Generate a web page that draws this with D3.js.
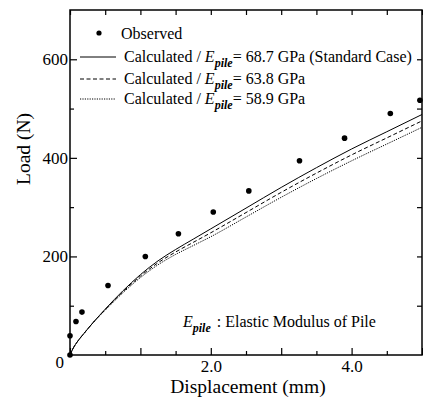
<!DOCTYPE html>
<html>
<head>
<meta charset="utf-8">
<script src="https://cdn.jsdelivr.net/npm/d3@7"></script>
<style>
  html, body { margin: 0; padding: 0; background: #fff; }
</style>
</head>
<body>
<svg id="chart" width="423" height="398"></svg>
<script>
// Observed load-displacement points
const obsDisp = [0, 0.0, 0.085, 0.17, 0.54, 1.07, 1.54, 2.035, 2.54, 3.26, 3.90, 4.55, 4.97];
const obsLoad = [0, 39, 68, 87, 141, 200, 246, 290, 333, 394, 440, 490, 517];

// Calculated curves for three pile elastic moduli
const calcDisp = [0, 0.05, 0.1, 0.2, 0.33, 0.5, 0.75, 1.0, 1.25, 1.5, 1.75, 2.0, 2.5, 3.0, 3.5, 4.0, 4.5, 5.0];
const calcLoad687 = [0, 15, 26, 44, 66, 93, 130, 163, 191, 214, 235, 256, 298, 340, 380, 418, 453, 488];
const calcLoad638 = [0, 15, 26, 44, 66, 92, 128, 160, 187, 209, 228.5, 248, 289, 330, 369, 406, 440.5, 475];
const calcLoad589 = [0, 15, 26, 44, 66, 91, 126, 157, 183, 204, 222, 240, 280, 320, 358, 394, 428, 462];

const seriesModulus = ["68.7", "63.8", "58.9"];
const seriesSuffix = [" (Standard Case)", "", ""];
const seriesDash = [null, "4,2.5", "1.2,1.2"];

const xMajorTicks = [0, 1, 2, 3, 4, 5];
const xMinorTicks = [0.5, 1.5, 2.5, 3.5, 4.5];
const xLabelTicks = [2, 4];
const yMajorTicks = [200, 400, 600];
const yMinorTicks = [100, 300, 500];
const yRightTicks = [100, 200, 300, 400, 500, 600];

const serif = "Liberation Serif";
const svg = d3.select("#chart").attr("font-family", serif);
const L = 70, R = 422, T = 10, B = 355;

const x = d3.scaleLinear().domain([0, 5]).range([L, R]);
const y = d3.scaleLinear().domain([0, 700]).range([B, T]);

const tickFont = 17;
const styleAxis = g => {
  g.attr("font-family", serif);
  g.select(".domain").remove();
  g.selectAll("text").attr("font-size", tickFont).attr("fill", "#000");
};

// bottom axis: inward ticks, labels at 2.0 and 4.0
svg.append("g").attr("transform", `translate(0,${B})`)
  .call(d3.axisBottom(x).tickValues(xMinorTicks).tickSize(-4).tickFormat(""))
  .call(styleAxis);
svg.append("g").attr("transform", `translate(0,${B})`)
  .call(d3.axisBottom(x).tickValues(xMajorTicks).tickSize(-7)
    .tickFormat(d => xLabelTicks.includes(d) ? d3.format(".1f")(d) : "").tickPadding(5))
  .call(styleAxis);

// top axis ticks
svg.append("g").attr("transform", `translate(0,${T})`)
  .call(d3.axisTop(x).tickValues(xMinorTicks.concat(xMajorTicks)).tickSize(-5).tickFormat(""))
  .call(styleAxis);

// left axis
svg.append("g").attr("transform", `translate(${L},0)`)
  .call(d3.axisLeft(y).tickValues(yMinorTicks).tickSize(-4).tickFormat(""))
  .call(styleAxis);
svg.append("g").attr("transform", `translate(${L},0)`)
  .call(d3.axisLeft(y).tickValues(yMajorTicks).tickSize(-7).tickPadding(2))
  .call(styleAxis);

// right axis ticks
svg.append("g").attr("transform", `translate(${R},0)`)
  .call(d3.axisRight(y).tickValues(yRightTicks).tickSize(-5).tickFormat(""))
  .call(styleAxis);

svg.selectAll(".tick line").attr("stroke", "#000").attr("stroke-width", 1.2);

// shared origin label
svg.append("text").attr("x", x(0) - 6).attr("y", y(0) + 13)
  .attr("text-anchor", "end").attr("font-size", tickFont).text("0");

// frame
svg.append("rect").attr("x", L).attr("y", T).attr("width", R - L).attr("height", B - T)
  .attr("fill", "none").attr("stroke", "#000").attr("stroke-width", 1.5);

// axis titles
svg.append("text").attr("x", 248).attr("y", 393).attr("text-anchor", "middle")
  .attr("font-size", 19.5).text("Displacement (mm)");
svg.append("text").attr("transform", "translate(30,149) rotate(-90)").attr("text-anchor", "middle")
  .attr("font-size", 19.5).text("Load (N)");

// calculated curves
const calcSeries = [calcLoad687, calcLoad638, calcLoad589];
const line = d3.line().x(d => x(d[0])).y(d => y(d[1])).curve(d3.curveMonotoneX);
const plot = svg.append("g");
calcSeries.forEach((loads, i) => {
  plot.append("path")
    .datum(calcDisp.map((d, j) => [d, loads[j]]))
    .attr("d", line)
    .attr("fill", "none").attr("stroke", "#000").attr("stroke-width", 1)
    .attr("stroke-dasharray", seriesDash[i]);
});

// observed points
plot.selectAll("circle.obs").data(obsDisp.map((d, i) => [d, obsLoad[i]]))
  .join("circle").attr("class", "obs")
  .attr("cx", d => x(d[0])).attr("cy", d => y(d[1])).attr("r", 2.8).attr("fill", "#000");

// legend
const lg = svg.append("g").attr("font-size", 16);
lg.append("circle").attr("cx", 99).attr("cy", 33).attr("r", 2.6).attr("fill", "#000");
lg.append("text").attr("x", 121).attr("y", 39).text("Observed");

const rowY = [62, 84, 104];
seriesModulus.forEach((m, i) => {
  const yy = rowY[i];
  lg.append("line").attr("x1", 80).attr("x2", 116).attr("y1", yy - 5).attr("y2", yy - 5)
    .attr("stroke", "#000").attr("stroke-width", 1).attr("stroke-dasharray", seriesDash[i]);
  const t = lg.append("text").attr("x", 124).attr("y", yy);
  t.append("tspan").text("Calculated / ");
  t.append("tspan").attr("font-style", "italic").text("E");
  t.append("tspan").attr("font-style", "italic").attr("font-weight", "bold")
    .attr("font-size", 12).attr("dy", 5).text("pile");
  t.append("tspan").attr("dy", -5).text("= " + m + " GPa" + seriesSuffix[i]);
});

// note
const note = svg.append("text").attr("x", 183).attr("y", 327).attr("font-size", 16);
note.append("tspan").attr("font-style", "italic").text("E");
note.append("tspan").attr("font-style", "italic").attr("font-weight", "bold")
  .attr("font-size", 12).attr("dy", 5).text("pile");
note.append("tspan").attr("dy", -5).attr("dx", 6).text(": Elastic Modulus of Pile");
</script>
</body>
</html>
